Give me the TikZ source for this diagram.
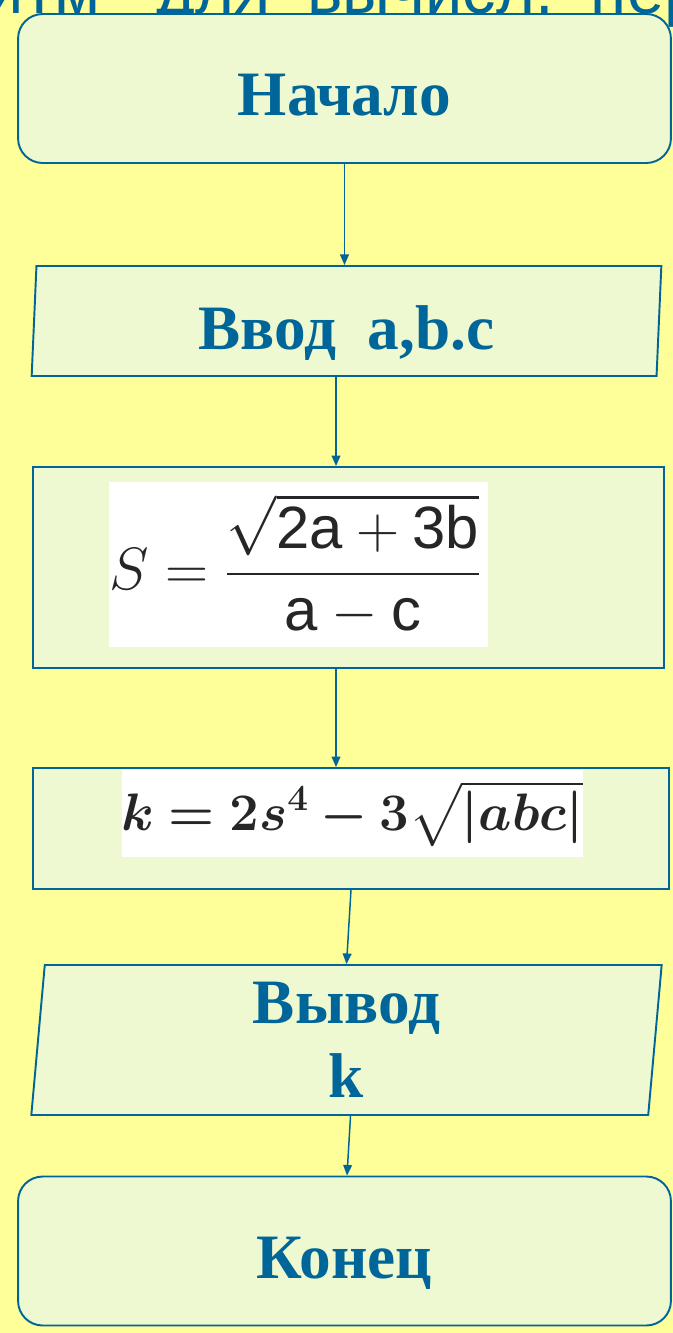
\RequirePackage{fix-cm}
\documentclass[tikz,border=0pt]{standalone}
\usepackage{amsmath,amssymb,bm}
\usepackage{fontspec}
\setmainfont{Liberation Serif}
\setsansfont{Liberation Sans}
\usepackage{tikz}
\usepackage{xcolor}
\usetikzlibrary{positioning,shapes.geometric,arrows.meta,calc}

\definecolor{bgyel}{HTML}{FFFF99}
\definecolor{boxfill}{HTML}{EEF9D1}
\definecolor{boxblue}{HTML}{006699}

\begin{document}
\begin{tikzpicture}[x=0.02cm,y=-0.02cm,
  every node/.style={font=\fontsize{36}{42}\selectfont\bfseries,text=boxblue},
  term/.style={draw=boxblue,line width=1.1pt,fill=boxfill,rounded corners=14pt,
    minimum width=13.06cm,minimum height=2.98cm,text height=31pt,text depth=0pt},
  io/.style={trapezium,trapezium left angle=88,trapezium right angle=92,
    trapezium stretches=true,draw=boxblue,line width=1.1pt,fill=boxfill},
  proc/.style={draw=boxblue,line width=1.1pt,fill=boxfill},
  formula/.style={fill=white,text=black!85,inner sep=0pt},
  arr/.style={draw=boxblue,line width=0.85pt,-{Triangle[length=6pt,width=5pt]}}]
  \useasboundingbox (0,0) rectangle (673,1333);
  \fill[bgyel] (0,0) rectangle (673,1333);
  % title of the slide, mostly hidden
  \node[font=\sffamily\fontsize{38}{44}\selectfont,anchor=base west]
    (ttl) at (-200,13) {Алгоритм~~~для~~вычисл.~~переменных};
  \node[term] (start) at (344.5,88.5) {Начало};
  \node[io,minimum width=12.62cm,minimum height=2.2cm,text height=32pt,text depth=0pt]
    (in) at (346.5,321) {Ввод~~a,b.c};
  \node[proc,minimum width=12.62cm,minimum height=4.02cm] (p1) at (348.5,567.5) {};
  \node[formula,minimum width=7.58cm,minimum height=3.3cm,
    font=\fontsize{34}{40}\selectfont] (f1) at (298.5,564.5)
    {\makebox[7.58cm][l]{$\displaystyle S=\frac{\sqrt{\mathsf{2a}+\mathsf{3b}}}{\mathsf{a}-\mathsf{c}}$}};
  \node[proc,minimum width=12.72cm,minimum height=2.42cm] (p2) at (351,828.5) {};
  \node[formula,minimum width=9.14cm,minimum height=1.74cm,
    font=\fontsize{30}{36}\selectfont] (f2) at (352.5,813.5)
    {$\bm{k=2s^4-3\sqrt{\lvert abc\rvert}}$};
  \node[io,minimum width=12.62cm,minimum height=3cm,align=center,
    font=\fontsize{36}{42}\selectfont\bfseries] (out) at (346.5,1040) {Вывод\\k};
  \node[term] (end) at (344.5,1251) {Конец};
  \draw[arr] (start.south) -- (start.south |- in.north);
  \draw[arr] ([xshift=-0.21cm]in.south) -- ([xshift=-0.21cm]in.south |- p1.north);
  \draw[arr] ([xshift=-0.25cm]p1.south) -- ([xshift=-0.25cm]p1.south |- p2.north);
  \draw[arr] (p2.south) -- (out.north);
  \draw[arr] ([xshift=0.08cm]out.south) -- ([xshift=0.05cm]end.north);
\end{tikzpicture}
\end{document}
